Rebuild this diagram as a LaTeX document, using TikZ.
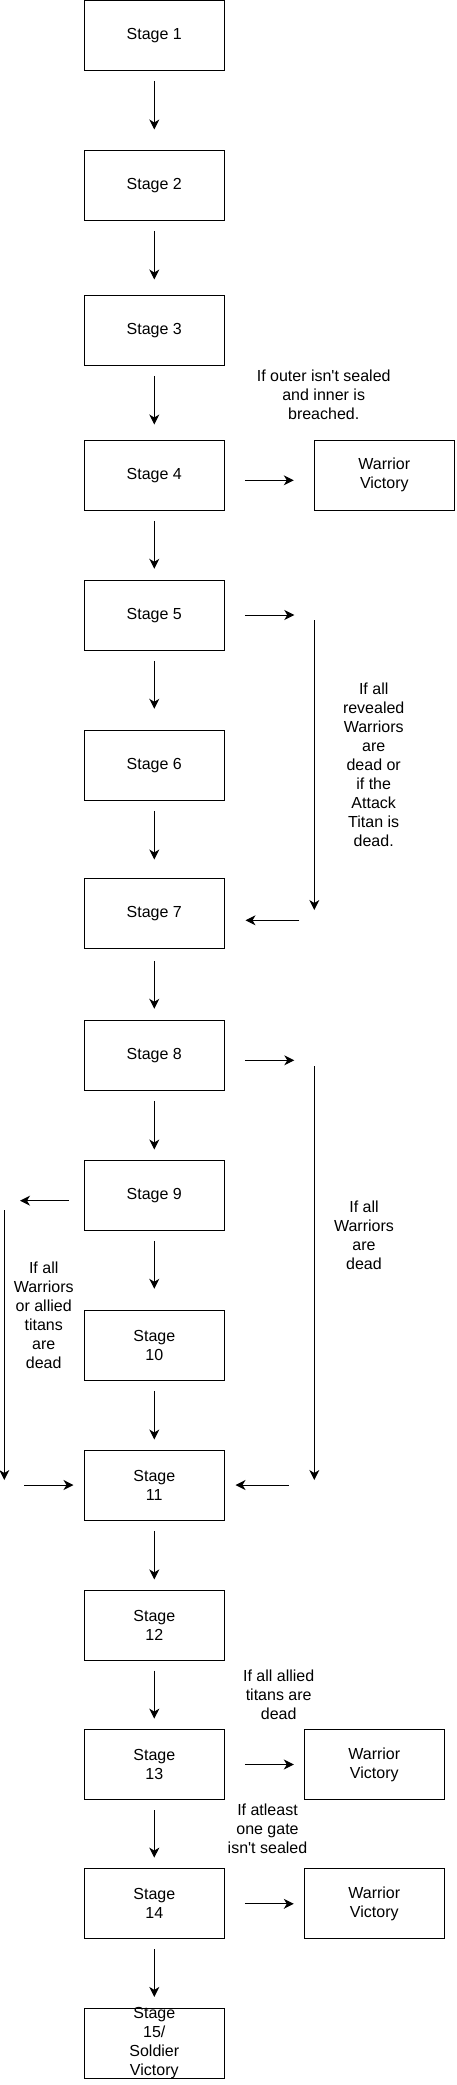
\documentclass[tikz,border=0pt]{standalone}
\usepackage{fontspec}
\setmainfont{Liberation Sans}
\usetikzlibrary{arrows.meta}
\begin{document}
\begin{tikzpicture}[x=1pt,y={(0pt,-1pt)},
 box/.style={draw,line width=1pt,minimum width=140pt,minimum height=70pt,inner sep=0pt,align=center,font=\fontsize{16}{19}\selectfont},
 lbl/.style={align=center,inner sep=0pt,font=\fontsize{16}{19}\selectfont},
 arr/.style={-{Stealth[length=10pt,width=10pt,inset=3pt]},line width=1pt},
 ln/.style={line width=1pt}]
\useasboundingbox (0,0) rectangle (456,2085);

% stages
\node[box] (s1) at (154.3,35.3) {Stage 1};
\node[box] (s2) at (154.3,185.3) {Stage 2};
\node[box] (s3) at (154.3,330.3) {Stage 3};
\node[box] (s4) at (154.3,475.3) {Stage 4};
\node[box] (s5) at (154.3,615.3) {Stage 5};
\node[box] (s6) at (154.3,765.3) {Stage 6};
\node[box] (s7) at (154.3,913.3) {Stage 7};
\node[box] (s8) at (154.3,1055.3) {Stage 8};
\node[box] (s9) at (154.3,1195.3) {Stage 9};
\node[box] (s10) at (154.3,1345.3) {Stage\\10};
\node[box] (s11) at (154.3,1485.3) {Stage\\11};
\node[box] (s12) at (154.3,1625.2) {Stage\\12};
\node[box] (s13) at (154.3,1764.5) {Stage\\13};
\node[box] (s14) at (154.3,1903.8) {Stage\\14};
\node[box] (s15) at (154.3,2043) {};
\node[lbl] (t15) at (154.3,2043) {Stage\\15/\\Soldier\\Victory};

% victories
\node[box] (w1) at (384.3,475.3) {Warrior\\Victory};
\node[box] (w2) at (374.3,1764.5) {Warrior\\Victory};
\node[box] (w3) at (374.3,1903.8) {Warrior\\Victory};

% labels
\node[lbl] (l1) at (323.7,395) {If outer isn\textquotesingle t sealed\\and inner is\\breached.};
\node[lbl] (l2) at (373.7,765.2) {If all\\revealed\\Warriors\\are\\dead or\\if the\\Attack\\Titan is\\dead.};
\node[lbl] (l3) at (364,1235.2) {If all\\Warriors\\are\\dead};
\node[lbl] (l4) at (43.7,1315) {If all\\Warriors\\or allied\\titans\\are\\dead};
\node[lbl] (l5) at (278.7,1694.7) {If all allied\\titans are\\dead};
\node[lbl] (l6) at (267.5,1829) {If atleast\\one gate\\isn\textquotesingle t sealed};

% main vertical arrows
\draw[arr] ([yshift=-10pt]s1.south) -- ([yshift=20.3pt]s2.north);
\draw[arr] ([yshift=-10pt]s2.south) -- ([yshift=15.3pt]s3.north);
\draw[arr] ([yshift=-10pt]s3.south) -- ([yshift=15.3pt]s4.north);
\draw[arr] ([yshift=-10pt]s4.south) -- ([yshift=11pt]s5.north);
\draw[arr] ([yshift=-10pt]s5.south) -- ([yshift=21pt]s6.north);
\draw[arr] ([yshift=-10pt]s6.south) -- ([yshift=18.3pt]s7.north);
\draw[arr] ([yshift=-12pt]s7.south) -- ([yshift=11pt]s8.north);
\draw[arr] ([yshift=-10pt]s8.south) -- ([yshift=10.3pt]s9.north);
\draw[arr] ([yshift=-10pt]s9.south) -- ([yshift=21pt]s10.north);
\draw[arr] ([yshift=-10pt]s10.south) -- ([yshift=10.3pt]s11.north);
\draw[arr] ([yshift=-10pt]s11.south) -- ([yshift=10.3pt]s12.north);
\draw[arr] ([yshift=-10pt]s12.south) -- ([yshift=10.4pt]s13.north);
\draw[arr] ([yshift=-10pt]s13.south) -- ([yshift=10.7pt]s14.north);
\draw[arr] ([yshift=-10pt]s14.south) -- ([yshift=10.6pt]s15.north);

% to victories
\draw[arr] ([xshift=20pt,yshift=-5pt]s4.east) -- ([xshift=-20pt,yshift=-5pt]w1.west);
\draw[arr] ([xshift=20pt]s13.east) -- ([xshift=-10pt]w2.west);
\draw[arr] ([xshift=20pt]s14.east) -- ([xshift=-10pt]w3.west);

% bypass 5 -> 7
\coordinate (a5) at (294.3,615);
\coordinate (v5t) at (314.3,620);
\coordinate (v5b) at (314.3,910);
\coordinate (a7) at (299.3,920.3);
\draw[arr] ([xshift=20pt]s5.east |- a5) -- (a5);
\draw[arr] (v5t) -- (v5b);
\draw[arr] (a7) -- ([xshift=20.7pt]s7.east |- a7);

% bypass 8 -> 11
\coordinate (a8) at (294.3,1060.3);
\coordinate (v8t) at (314.3,1066);
\coordinate (v8b) at (314.3,1480);
\coordinate (a11r) at (288.7,1485);
\draw[arr] ([xshift=20pt]s8.east |- a8) -- (a8);
\draw[arr] (v8t) -- (v8b);
\draw[arr] (a11r) -- ([xshift=10.7pt]s11.east |- a11r);

% bypass 9 -> 11 (left)
\coordinate (a9) at (20,1200.7);
\coordinate (v9t) at (4.3,1210);
\coordinate (v9b) at (4.3,1480);
\coordinate (a11l) at (24.3,1485);
\draw[arr] ([xshift=-15pt]s9.west |- a9) -- (a9);
\draw[arr] (v9t) -- (v9b);
\draw[arr] (a11l) -- ([xshift=-10.3pt]s11.west |- a11l);
\end{tikzpicture}
\end{document}
